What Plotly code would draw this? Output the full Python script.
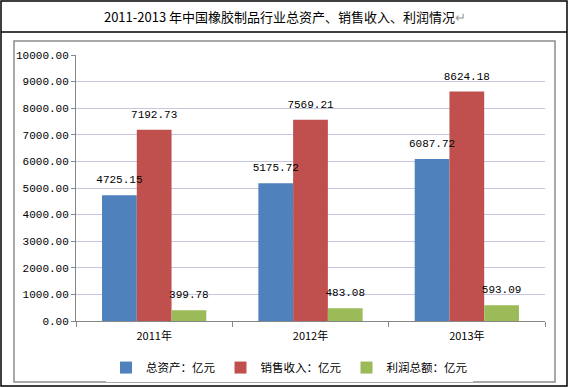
import plotly.graph_objects as go

categories = ["2011年", "2012年", "2013年"]
series_names = ["总资产：亿元", "销售收入：亿元", "利润总额：亿元"]
total_assets = [4725.15, 5175.72, 6087.72]
sales_revenue = [7192.73, 7569.21, 8624.18]
total_profit = [399.78, 483.08, 593.09]
colors = ["#4F81BD", "#C0504D", "#9BBB59"]
y_ticks = [0, 1000, 2000, 3000, 4000, 5000, 6000, 7000, 8000, 9000, 10000]

num_font = "Liberation Mono"
cjk_font = "Noto Sans CJK SC"

all_series = [total_assets, sales_revenue, total_profit]
groups = ["g0", "g1", "g2"]

fig = go.Figure()
for name, vals, col, g in zip(series_names, all_series, colors, groups):
    fig.add_trace(go.Bar(
        x=categories, y=vals, name=name, offsetgroup=g,
        marker=dict(color=col, line=dict(width=0)),
    ))
# value labels drawn on top of all bars
for name, vals, g in zip(series_names, all_series, groups):
    fig.add_trace(go.Scatter(
        x=categories, y=vals, offsetgroup=g, mode="markers+text",
        marker=dict(size=13, opacity=0, color="white"),
        text=[f"{v:.2f}" for v in vals], textposition="top center",
        textfont=dict(family=num_font, size=11, color="#000000"),
        showlegend=False, hoverinfo="skip", cliponaxis=False,
    ))

fig.update_layout(
    width=570, height=388,
    paper_bgcolor="white", plot_bgcolor="white",
    margin=dict(l=76, r=25, t=55, b=67, autoexpand=False),
    barmode="group", bargap=0.333, bargroupgap=0,
    scattermode="group", scattergap=0.333,
    showlegend=True,
    legend=dict(orientation="h", x=(106 - 76) / 469, xanchor="left", y=-0.175, yanchor="middle",
                yref="paper",
                font=dict(family=cjk_font, size=11.5, color="#000000"),
                itemwidth=30, traceorder="normal"),
    font=dict(family=cjk_font, size=11, color="#000000"),
    title=dict(text="2011-2013 年中国橡胶制品行业总资产、销售收入、利润情况<span style='color:#999999'>↵</span>",
               x=0.5, xanchor="center", y=1 - 17/388, yanchor="middle", yref="container",
               font=dict(family=cjk_font, size=13, color="#000000")),
)
fig.update_xaxes(
    type="category", showline=True, linecolor="#868686", linewidth=1,
    ticks="outside", tickson="boundaries", ticklen=5, tickcolor="#868686",
    ticklabelstandoff=5,
    tickfont=dict(family=cjk_font, size=11, color="#000000"),
    showgrid=False, automargin=False,
)
fig.update_yaxes(
    range=[0, 10000], tickvals=y_ticks, tickformat=".2f",
    showline=True, linecolor="#868686", linewidth=1,
    ticks="outside", ticklen=4, tickcolor="#868686",
    showgrid=True, gridcolor="#C6C6E2", gridwidth=1,
    zeroline=False, automargin=False,
    tickfont=dict(family=num_font, size=11, color="#000000"),
)

# Borders: outer table frame, title separator, inner chart frame
fig.add_shape(type="rect", xref="paper", yref="paper",
              x0=-75/469, x1=491/469, y0=(321-386)/266, y1=(321-1)/266,
              line=dict(color="#000000", width=1.5), fillcolor="rgba(0,0,0,0)", layer="above")
fig.add_shape(type="line", xref="paper", yref="paper",
              x0=-75/469, x1=491/469, y0=(321-32)/266, y1=(321-32)/266,
              line=dict(color="#000000", width=1.5))
fig.add_shape(type="rect", xref="paper", yref="paper",
              x0=-62/469, x1=479/469, y0=(321-382)/266, y1=(321-41)/266,
              line=dict(color="#8C8C8C", width=1.5), fillcolor="rgba(0,0,0,0)", layer="below")

fig.write_html("out.html", config={"displayModeBar": False},
               post_script="document.body.style.margin='0';")
